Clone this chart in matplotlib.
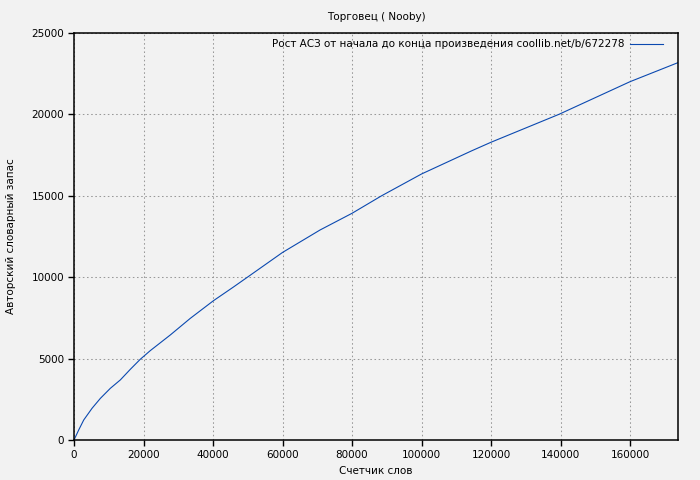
import matplotlib
matplotlib.use("Agg")
import matplotlib.pyplot as plt

title = "Торговец ( Nooby)"
xlabel = "Счетчик слов"
ylabel = "Авторский словарный запас"
legend_label = "Рост АСЗ от начала до конца произведения coollib.net/b/672278"

words = [0, 1350, 2800, 5200, 7600, 10460, 13330, 16200, 19080, 21950, 27700,
         33450, 40150, 45900, 50700, 60000, 70800, 80000, 88500, 100000,
         114400, 120000, 139500, 160000, 173800]
vocab = [0, 614, 1230, 1950, 2560, 3175, 3690, 4340, 4960, 5490, 6450,
         7470, 8560, 9400, 10120, 11520, 12900, 13925, 15000, 16340,
         17760, 18290, 20000, 22010, 23180]

xticks = [0, 20000, 40000, 60000, 80000, 100000, 120000, 140000, 160000]
yticks = [0, 5000, 10000, 15000, 20000, 25000]

fs = 7.5
bg = "#f2f2f2"
fig = plt.figure(figsize=(7, 4.8), dpi=100, facecolor=bg)
ax = fig.add_axes([74/700, 40/480, (678-74)/700, (440-33)/480], facecolor=bg)

ax.plot(words, vocab, color="#0b49b0", lw=0.8, label=legend_label)

ax.set_xlim(0, 173800)
ax.set_ylim(0, 25000)
ax.set_xticks(xticks)
ax.set_yticks(yticks)
ax.tick_params(axis="both", labelsize=fs, direction="out", length=4, width=1,
               top=False, right=False, pad=3)
ax.grid(True, color="#999999", linestyle=(0, (1.5, 2.5)), linewidth=0.75)
for s in ax.spines.values():
    s.set_linewidth(1.1)
    s.set_color("black")

ax.set_title(title, fontsize=fs, pad=9)
ax.set_xlabel(xlabel, fontsize=fs, labelpad=4.5)
ax.set_ylabel(ylabel, fontsize=fs, labelpad=11.5)

ax.legend(loc="upper right", bbox_to_anchor=(1 - 9/604, 1.0), frameon=False,
          markerfirst=False, fontsize=fs, handlelength=3.1, handletextpad=0.6,
          borderaxespad=0.3, borderpad=0.3)

fig.savefig("out.png", dpi=100, facecolor=bg)
